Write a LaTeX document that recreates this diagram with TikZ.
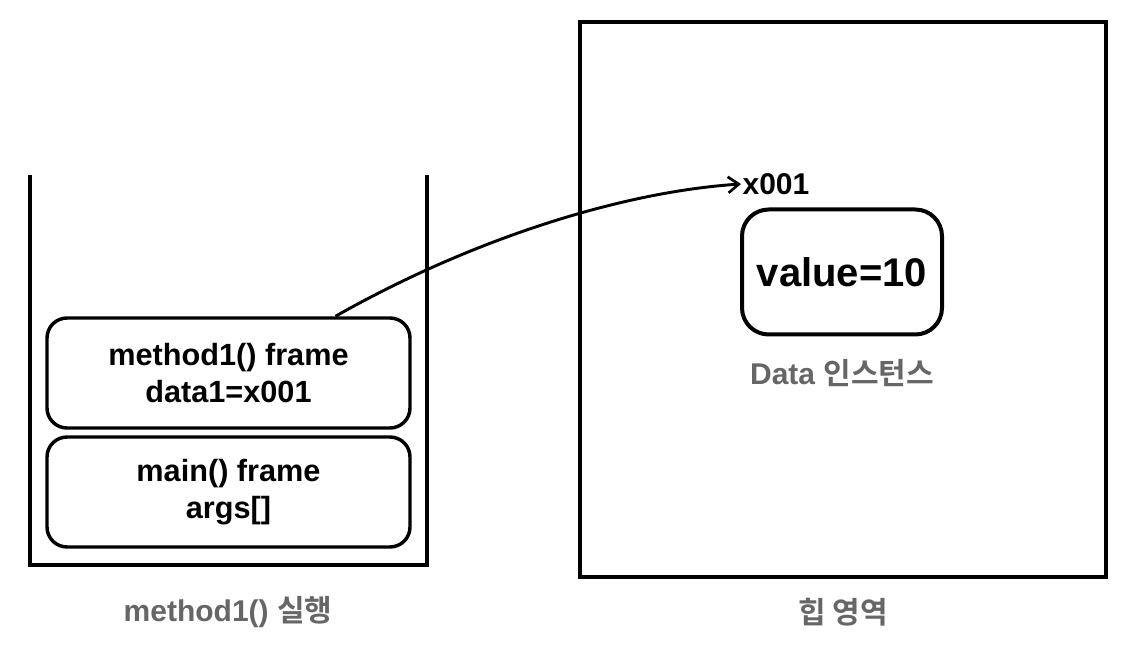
\documentclass[tikz,border=0pt]{standalone}
\usepackage{fontspec}
\setmainfont{Liberation Sans}
\newfontfamily\kr{Noto Sans CJK KR}[BoldFont={* Bold}]
\usetikzlibrary{arrows.meta}
\definecolor{lbl}{HTML}{666666}
\tikzset{
  frm/.style={draw, line width=2.6pt, rounded corners=15pt, minimum width=363*0.75pt, minimum height=110*0.75pt, inner sep=0pt, align=center, font=\bfseries\fontsize{23}{28}\selectfont},
  wall/.style={line width=3pt},
  caplbl/.style={text=lbl, font=\bfseries\fontsize{22.5}{26}\selectfont},
}
\begin{document}
\begin{tikzpicture}[x=0.75pt,y=-0.75pt]
\useasboundingbox (0,0) rectangle (1128,648);
\fill[white] (0,0) rectangle (1128,648);
% stack
\draw[wall] (30,175) -- (30,565) -- (427,565) -- (427,175);
\node[frm] (m1) at (228.5,373) {method1() frame\\data1=x001};
\node[frm] (mn) at (228.5,492) {main() frame\\args[]};
\node[caplbl] (sl) at (228,612) {method1() {\kr\bfseries 실행}};
% heap
\node[draw, wall, minimum width=526*0.75pt, minimum height=555*0.75pt, inner sep=0pt] (heap) at (843,299.5) {};
\node[draw, line width=3pt, rounded corners=20pt, minimum width=200*0.75pt, minimum height=125*0.75pt, inner sep=0pt, font=\bfseries\fontsize{30}{34}\selectfont] (val) at (842,272) {value=10};
\node[anchor=west, inner sep=1pt, font=\bfseries\fontsize{22.5}{26}\selectfont] (addr) at (741,184) {x001};
\node[caplbl] (dl) at (842,373) {Data {\kr\bfseries 인스턴스}};
\node[caplbl] (hl) at (843,612) {\kr\bfseries 힙 영역};
\coordinate (st) at ([xshift=107*0.75pt]m1.north);
\draw[line width=2.2pt, -{Straight Barb[length=8pt,width=12pt,line width=2pt]}] (st) .. controls (470,240) and (620,192) .. (addr.west);
\end{tikzpicture}
\end{document}
